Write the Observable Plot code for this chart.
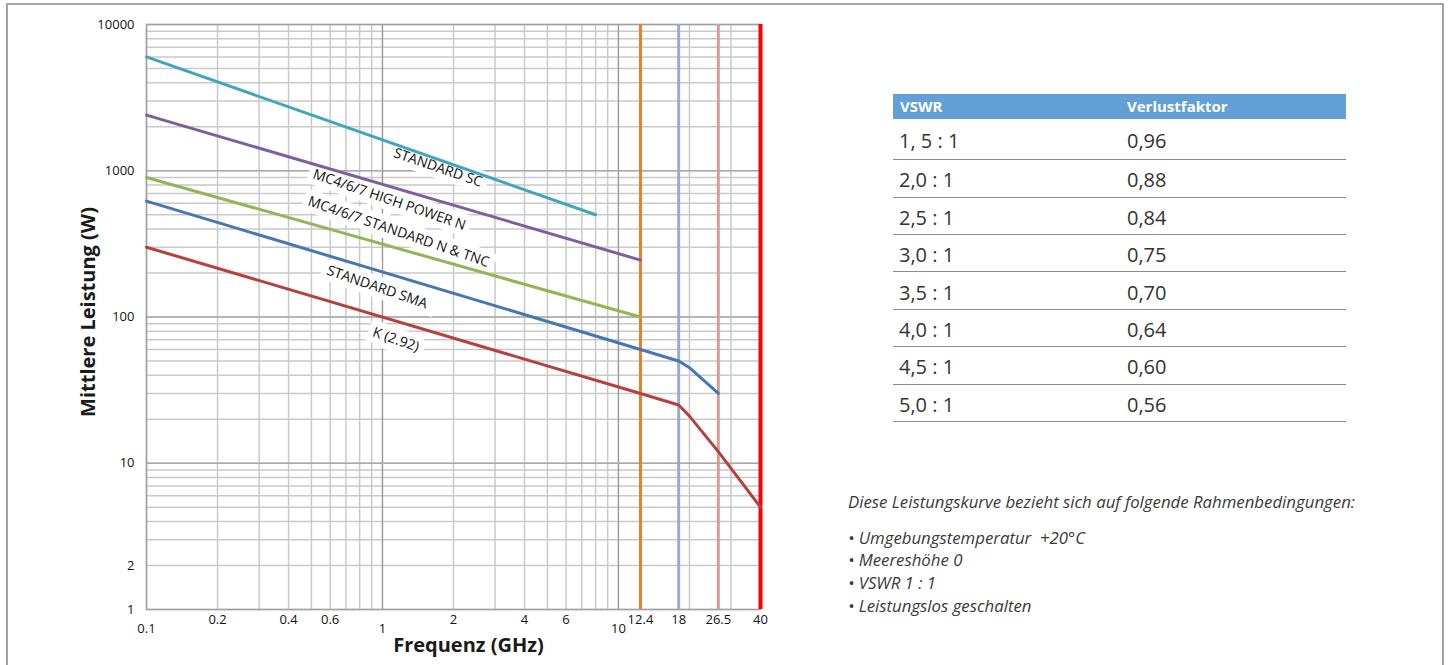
<!DOCTYPE html>
<html><head><meta charset="utf-8">
<script src="https://cdn.jsdelivr.net/npm/d3@7"></script>
<script src="https://cdn.jsdelivr.net/npm/@observablehq/plot@0.6"></script>
<style>
body{margin:0;background:#fff;width:1448px;height:665px;overflow:hidden;position:relative;font-family:"Open Sans",sans-serif}
#frame{position:absolute;left:6px;top:3px;width:1438px;height:720px;border:2px solid #a3a3a3;box-sizing:border-box}
#chart{position:absolute;left:0;top:0}
#tbl{position:absolute;left:0;top:0;font-family:"Open Sans",sans-serif}
.hdr{position:absolute;left:893px;top:94px;width:453px;height:25px;background:#62a0d6}
.ht{position:absolute;color:#fff;font-weight:bold;font-size:15px;line-height:25px;top:94px;white-space:nowrap}
.sep{position:absolute;left:893px;width:453px;height:0;border-top:1.6px solid #8c8c8c}
.cell{position:absolute;color:#333;font-size:20px;transform:translateY(-50%);line-height:1;white-space:nowrap}
#notes{position:absolute;left:848px;top:0;font-family:"Open Sans",sans-serif;font-style:italic;font-size:16.8px;color:#3a3a3a}
#notes div{position:absolute;white-space:nowrap;transform:translateY(-50%)}
</style></head><body>
<div id="frame"></div>
<div id="chart"></div>
<div id="tbl"></div>
<div id="notes"></div>
<script>
// ---- data ----
const seriesNames = ["STANDARD SC","MC4/6/7 HIGH POWER N","MC4/6/7 STANDARD N & TNC","STANDARD SMA","K (2.92)"];
const seriesColors = ["#41a5bd","#7d5fa0","#92b656","#4677b3","#b5403d"];
const scFreq = [0.1, 8];          const scPower = [6000, 500];
const hpFreq = [0.1, 12.4];       const hpPower = [2400, 245];
const nFreq  = [0.1, 12.4];       const nPower  = [900, 100];
const smaFreq = [0.1, 12.4, 18, 20, 26.5];      const smaPower = [620, 60, 50, 45, 30];
const kFreq   = [0.1, 12.4, 18, 20, 26.5, 40];  const kPower   = [300, 30, 25, 21, 12, 5];

const bandFreqs = [12.4, 18, 26.5, 40];
const bandColors = ["#e97e2c","#92acd8","#d99a9a","#ff0000"];
const bandWidths = [3, 3, 3, 4];

const labelX = [1.72, 1.07, 1.17, 0.95, 1.14];
const labelY = [1050, 633, 382, 160, 70];

const yTicks = [1, 2, 10, 100, 1000, 10000];
const xTicksUpper = [0.2, 0.4, 0.6, 2, 4, 6, 12.4, 18, 26.5, 40];
const xTicksLower = [0.1, 1, 10];
const xGrid = [0.1,0.2,0.3,0.4,0.5,0.6,0.7,0.8,0.9,1,2,3,4,5,6,7,8,9,10,20,30,40];
const yGrid = [1,10,100,1000].flatMap(d => [1,2,3,4,5,6,7,8,9].map(k => k*d)).concat([10000]);

const vswr = ["1, 5 : 1","2,0 : 1","2,5 : 1","3,0 : 1","3,5 : 1","4,0 : 1","4,5 : 1","5,0 : 1"];
const loss = ["0,96","0,88","0,84","0,75","0,70","0,64","0,60","0,56"];
const tableHeader = ["VSWR","Verlustfaktor"];

const noteTitle = "Diese Leistungskurve bezieht sich auf folgende Rahmenbedingungen:";
const noteItems = ["Umgebungstemperatur&nbsp;&nbsp;+20°C","Meereshöhe 0","VSWR 1 : 1","Leistungslos geschalten"];

// ---- build ----
const freqs = [scFreq,hpFreq,nFreq,smaFreq,kFreq];
const powers = [scPower,hpPower,nPower,smaPower,kPower];
const rows = [];
seriesNames.forEach((s,i)=>freqs[i].forEach((f,j)=>rows.push({series:s,color:seriesColors[i],f,p:powers[i][j]})));
const bands = bandFreqs.map((f,i)=>({f,color:bandColors[i],w:bandWidths[i]}));
const labels = seriesNames.map((s,i)=>({text:s,x:labelX[i],y:labelY[i]}));

const chart = Plot.plot({
  width: 800, height: 665,
  marginLeft: 146, marginRight: 40, marginTop: 24, marginBottom: 56,
  x: {type: "log", domain: [0.1, 40], axis: null},
  y: {type: "log", domain: [1, 10000], axis: null},
  color: {type: "identity"},
  style: {fontFamily: "'Open Sans', sans-serif", background: "transparent", overflow: "visible", color: "#111"},
  marks: [
    Plot.ruleX(xGrid, {x: d=>d, stroke: "#c9c9c9", strokeWidth: 1.5}),
    Plot.ruleY(yGrid, {y: d=>d, stroke: "#c9c9c9", strokeWidth: 1.5}),
    Plot.ruleX([1, 10], {x: d=>d, stroke: "#999", strokeWidth: 1.2}),
    Plot.ruleY([10, 100, 1000], {y: d=>d, stroke: "#aaa", strokeWidth: 1.5}),
    Plot.frame({stroke: "#a0a0a0", strokeWidth: 1.5}),
    Plot.text(labels, {x: "x", y: "y", text: "text", rotate: 19, fontSize: 14, fill: "#111", stroke: "white", strokeWidth: 12, strokeLinejoin: "miter"}),
    Plot.ruleX(bands, {x: "f", stroke: "color", strokeWidth: "w"}),
    Plot.line(rows, {x: "f", y: "p", z: "series", stroke: "color", strokeWidth: 3}),
    Plot.text(yTicks, {y: d=>d, frameAnchor: "left", dx: -12, textAnchor: "end", text: d=>String(d), fontSize: 13, fill: "#111"}),
    Plot.text(xTicksUpper, {x: d=>d, frameAnchor: "bottom", dy: 10, lineAnchor: "middle", text: d=>String(d), fontSize: 13, fill: "#111"}),
    Plot.text(xTicksLower, {x: d=>d, frameAnchor: "bottom", dy: 19, lineAnchor: "middle", text: d=>String(d), fontSize: 13, fill: "#111"}),
    Plot.text(["Mittlere Leistung (W)"], {frameAnchor: "left", dx: -58, dy: -5, rotate: -90, textAnchor: "middle", fontSize: 20, fontWeight: "bold", fill: "#1a1a1a"}),
    Plot.text(["Frequenz (GHz)"], {frameAnchor: "bottom", dx: 15, dy: 36, lineAnchor: "middle", textAnchor: "middle", fontSize: 20, fontWeight: "bold", fill: "#1a1a1a"})
  ]
});
document.getElementById("chart").append(chart);

// table
const tbl = document.getElementById("tbl");
let html = `<div class="hdr"></div><div class="ht" style="left:900px">${tableHeader[0]}</div><div class="ht" style="left:1127px">${tableHeader[1]}</div>`;
vswr.forEach((v,i)=>{
  const lineY = 160 + i*37.43;
  const top = i===0 ? 119 : lineY - 37.43;
  const cy = (top + lineY)/2 + 1.5;
  html += `<div class="cell" style="left:899px;top:${cy}px">${v}</div><div class="cell" style="left:1127px;top:${cy}px">${loss[i]}</div><div class="sep" style="top:${lineY-0.8}px"></div>`;
});
tbl.innerHTML = html;

// notes
const notes = document.getElementById("notes");
const noteYs = [501, 537, 559, 582, 605];
let nh = `<div style="top:${noteYs[0]}px">${noteTitle}</div>`;
noteItems.forEach((t,i)=>{ nh += `<div style="top:${noteYs[i+1]}px">• ${t}</div>`; });
notes.innerHTML = nh;
</script>
</body></html>
